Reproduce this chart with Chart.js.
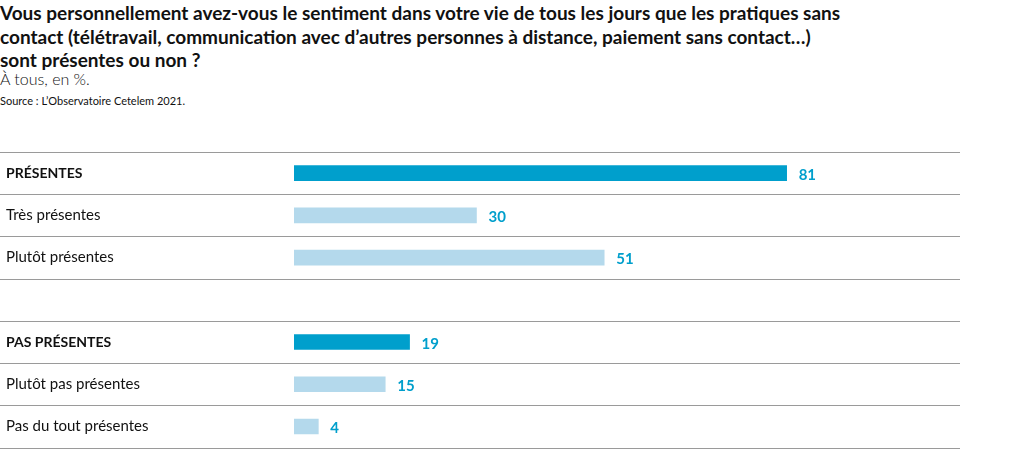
<!DOCTYPE html>
<html>
<head>
<meta charset="utf-8">
<script src="https://cdn.jsdelivr.net/npm/chart.js@4"></script>
<style>
	body {margin: 0; background: #fff; width: 1020px; height: 450px; overflow: hidden; font-family: Lato, sans-serif; color: #111;}
	#title {position: absolute; left: 0; top: 1px; font-weight: bold; font-size: 19px; line-height: 23.5px; white-space: nowrap;}
	#subtitle {position: absolute; left: 0; top: 69px; font-size: 16px; font-weight: 300;}
	#source {position: absolute; left: 0; top: 94px; font-size: 11px;}
	#wrap {position: absolute; left: 0; top: 130px; width: 1020px; height: 326px;}
</style>
</head>
<body>
<div id="title">Vous personnellement avez-vous le sentiment dans votre vie de tous les jours que les pratiques sans<br>contact (télétravail, communication avec d’autres personnes à distance, paiement sans contact…)<br>sont présentes ou non ?</div>
<div id="subtitle">À tous, en %.</div>
<div id="source">Source : L’Observatoire Cetelem 2021.</div>
<div id="wrap"><canvas id="chart_bars"></canvas></div>
<script>
// données
const categories = ['PRÉSENTES', 'Très présentes', 'Plutôt présentes', '', 'PAS PRÉSENTES', 'Plutôt pas présentes', 'Pas du tout présentes'];
const values = [81, 30, 51, null, 19, 15, 4];
const isTotal = [true, false, false, false, true, false, false];

const darkBlue = '#009fcc';
const lightBlue = '#b4d9ec';

// lignes grises entre chaque rangée, sur toute la largeur
const rowLines = {
	id: 'rowLines',
	beforeDatasetsDraw(chart) {
		const y = chart.scales.y;
		const ctx = chart.ctx;
		ctx.save();
		ctx.strokeStyle = '#9a9a9a';
		ctx.lineWidth = 1;
		for (let i = 0; i <= categories.length; i++) {
			const py = Math.round(y.getPixelForValue(i - 0.5)) + 0.5;
			ctx.beginPath();
			ctx.moveTo(0, py);
			ctx.lineTo(960, py);
			ctx.stroke();
		}
		ctx.restore();
	}
};

// valeurs à droite des barres
const valueLabels = {
	id: 'valueLabels',
	afterDatasetsDraw(chart) {
		const ctx = chart.ctx;
		const meta = chart.getDatasetMeta(0);
		ctx.save();
		ctx.fillStyle = darkBlue;
		ctx.font = 'bold 15px Lato, sans-serif';
		ctx.textBaseline = 'middle';
		ctx.textAlign = 'left';
		meta.data.forEach((bar, i) => {
			if (values[i] == null) {return ;}
			ctx.fillText(String(values[i]), bar.x + 12, bar.y + 2);
		});
		ctx.restore();
	}
};

const ctx = document.getElementById('chart_bars').getContext('2d');
new Chart(ctx, {
	type: 'bar',
	data: {
		labels: categories,
		datasets: [{
			data: values,
			backgroundColor: isTotal.map(t => t ? darkBlue : lightBlue),
			barThickness: 15,
			borderWidth: 0
		}]
	},
	options: {
		indexAxis: 'y',
		responsive: true,
		maintainAspectRatio: false,
		animation: false,
		layout: {padding: {left: 6, right: 60, top: 22, bottom: 1}},
		plugins: {
			legend: {display: false},
			tooltip: {enabled: false}
		},
		scales: {
			x: {
				display: false,
				min: 0,
				max: 109.5
			},
			y: {
				grid: {display: false, drawTicks: false},
				border: {display: false},
				afterFit: function(scale) {scale.width = 288;},
				ticks: {
					crossAlign: 'far',
					padding: 0,
					color: '#111',
					font: function(c) {
						return {family: 'Lato, sans-serif', size: isTotal[c.index] ? 14 : 15, weight: isTotal[c.index] ? 'bold' : 'normal'};
					}
				}
			}
		}
	},
	plugins: [rowLines, valueLabels]
});
</script>
</body>
</html>
